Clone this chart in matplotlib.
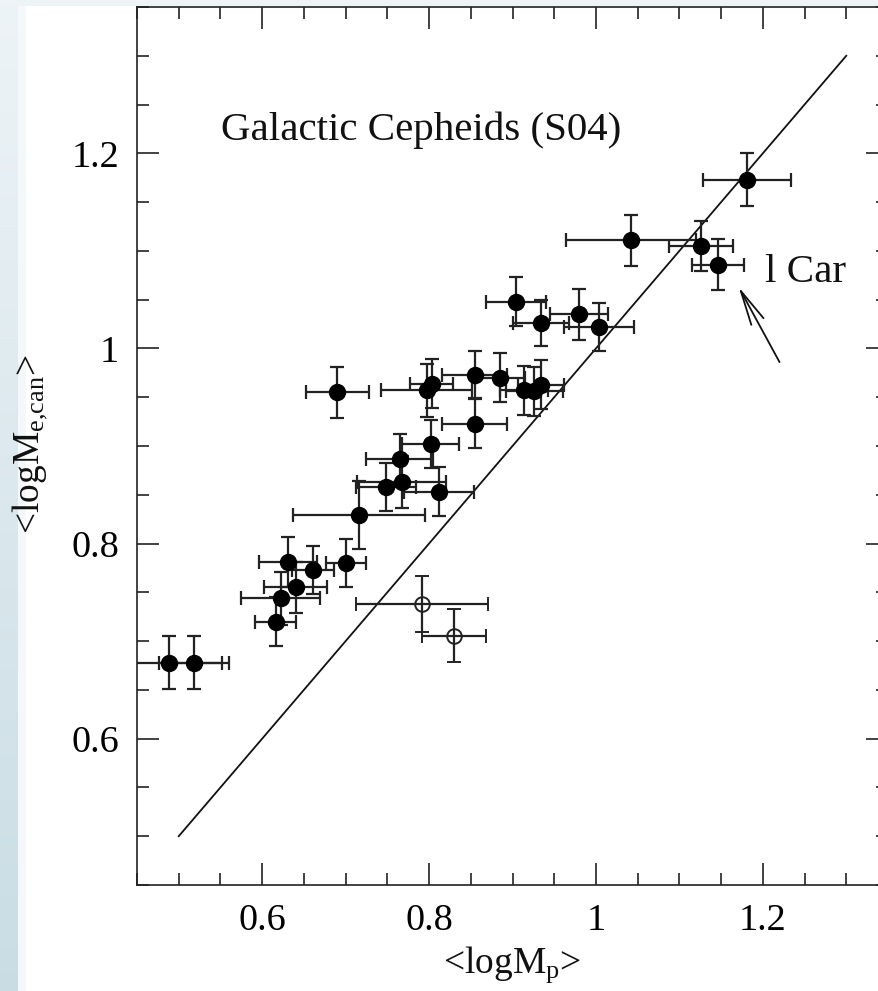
import numpy as np
import matplotlib
matplotlib.use("Agg")
import matplotlib.pyplot as plt
from matplotlib.ticker import MultipleLocator, FuncFormatter

# ---------------- data ----------------
x_filled = [0.488, 0.518, 0.616, 0.622, 0.640, 0.631, 0.661, 0.700, 0.716, 0.690,
            0.797, 0.803, 0.855, 0.855, 0.802, 0.765, 0.748, 0.767, 0.812, 0.904,
            0.934, 0.980, 1.004, 0.885, 0.914, 0.926, 0.934, 1.181, 1.042, 1.126,
            1.146]
y_filled = [0.678, 0.678, 0.720, 0.744, 0.755, 0.781, 0.773, 0.780, 0.829, 0.955,
            0.957, 0.964, 0.973, 0.923, 0.902, 0.887, 0.858, 0.863, 0.853, 1.048,
            1.026, 1.035, 1.022, 0.970, 0.957, 0.956, 0.963, 1.173, 1.111, 1.105,
            1.086]
xerr_filled = [0.064, 0.042, 0.025, 0.047, 0.038, 0.035, 0.025, 0.024, 0.079, 0.038,
               0.054, 0.026, 0.039, 0.039, 0.034, 0.040, 0.036, 0.053, 0.042, 0.036,
               0.034, 0.035, 0.042, 0.030, 0.029, 0.034, 0.028, 0.053, 0.078, 0.038,
               0.031]
yerr_filled = [0.027, 0.027, 0.025, 0.027, 0.026, 0.026, 0.025, 0.025, 0.035, 0.026,
               0.027, 0.025, 0.024, 0.025, 0.025, 0.025, 0.025, 0.027, 0.025, 0.025,
               0.024, 0.026, 0.025, 0.025, 0.025, 0.025, 0.025, 0.027, 0.026, 0.026,
               0.026]

x_open = [0.792, 0.830]
y_open = [0.738, 0.7055]
xerr_open = [0.079, 0.038]
yerr_open = [0.029, 0.027]

line_x = [0.5, 1.3]
line_y = [0.5, 1.3]

x_ticks = [0.6, 0.8, 1.0, 1.2]
y_ticks = [0.6, 0.8, 1.0, 1.2]

title_text = "Galactic Cepheids (S04)"
star_label = "l Car"
xlabel = "<logM$_\\mathrm{p}$>"
ylabel = "<logM$_\\mathrm{e{,}can}$>"

# ---------------- style ----------------
plt.rcParams['font.family'] = ['Liberation Serif', 'DejaVu Serif']
plt.rcParams['mathtext.fontset'] = 'custom'
plt.rcParams['mathtext.rm'] = 'Liberation Serif'
plt.rcParams['mathtext.it'] = 'Liberation Serif:italic'

W, H = 879, 991
fig = plt.figure(figsize=(W / 100, H / 100), dpi=100)
fig.patch.set_facecolor('white')

# background decoration (left blue strip + faint top band)
bg = fig.add_axes([0, 0, 1, 1], zorder=-10)
bg.set_xlim(0, W)
bg.set_ylim(H, 0)
bg.axis('off')
top_c = np.array([0.93, 0.955, 0.968])
bot_c = np.array([0.79, 0.865, 0.895])
t = np.linspace(0, 1, 256)[:, None]
grad = (top_c[None, :] * (1 - t) + bot_c[None, :] * t)[:, None, :]
bg.imshow(grad, extent=(0, 18, H, 0), aspect='auto', interpolation='bilinear')
bg.fill_between([18, 26], 0, H, color='#f4f8fa', lw=0)
bg.fill_between([0, W], 0, 6, color='#eef3f6', lw=0)

# main axes (extends past the right edge like the reference crop)
ax = fig.add_axes([137 / W, 1 - 885 / H, (888 - 137) / W, (885 - 7) / H])
ax.set_facecolor('white')
ax.set_xlim(0.45, 1.35)
ax.set_ylim(0.45, 1.35)

for s in ax.spines.values():
    s.set_linewidth(1.2)
    s.set_color('#222222')

ax.xaxis.set_major_locator(MultipleLocator(0.2))
ax.xaxis.set_minor_locator(MultipleLocator(0.05))
ax.yaxis.set_major_locator(MultipleLocator(0.2))
ax.yaxis.set_minor_locator(MultipleLocator(0.05))
ax.set_xticks(x_ticks)
ax.set_yticks(y_ticks)
fmt = FuncFormatter(lambda v, p: ('%g' % round(v, 3)))
ax.xaxis.set_major_formatter(fmt)
ax.yaxis.set_major_formatter(fmt)
ax.tick_params(which='both', direction='in', top=True, right=True,
               color='#222222', width=1.2)
ax.tick_params(which='major', length=16, labelsize=27.5)
ax.tick_params(which='minor', length=8.5)
ax.tick_params(axis='x', which='major', pad=13)
ax.tick_params(axis='y', which='major', pad=13)

# identity line
ax.plot(line_x, line_y, color='#111111', lw=1.3, zorder=2)

# filled points
ax.errorbar(x_filled, y_filled, xerr=xerr_filled, yerr=yerr_filled,
            fmt='o', ms=11.5, mfc='black', mec='black', ecolor='#222222',
            elinewidth=1.6, capsize=5, capthick=1.6, zorder=3)
# open points
ax.errorbar(x_open, y_open, xerr=xerr_open, yerr=yerr_open,
            fmt='o', ms=10.5, mfc='none', mec='#222222', mew=1.4, ecolor='#222222',
            elinewidth=1.6, capsize=5, capthick=1.6, zorder=3)

# annotations
ax.text(0.551, 1.2235, title_text, fontsize=29.5, ha='left', va='center', color='#111111')
ax.text(1.202, 1.078, star_label, fontsize=29.5, ha='left', va='center', color='#111111')
ax.annotate('', xy=(1.171, 1.063), xytext=(1.220, 0.986),
            arrowprops=dict(arrowstyle='->,head_length=1.25,head_width=0.25',
                            lw=1.3, color='#111111', mutation_scale=20,
                            shrinkA=0, shrinkB=0))

# axis labels placed in figure pixels
fig.text(512 / W, 1 - 965 / H, xlabel, fontsize=27, ha='center', va='center', color='#111111')
fig.text(30 / W, 1 - 444 / H, ylabel, fontsize=27, ha='center', va='center',
         rotation=90, color='#111111')

fig.savefig('out.png', dpi=100, facecolor=fig.get_facecolor())
